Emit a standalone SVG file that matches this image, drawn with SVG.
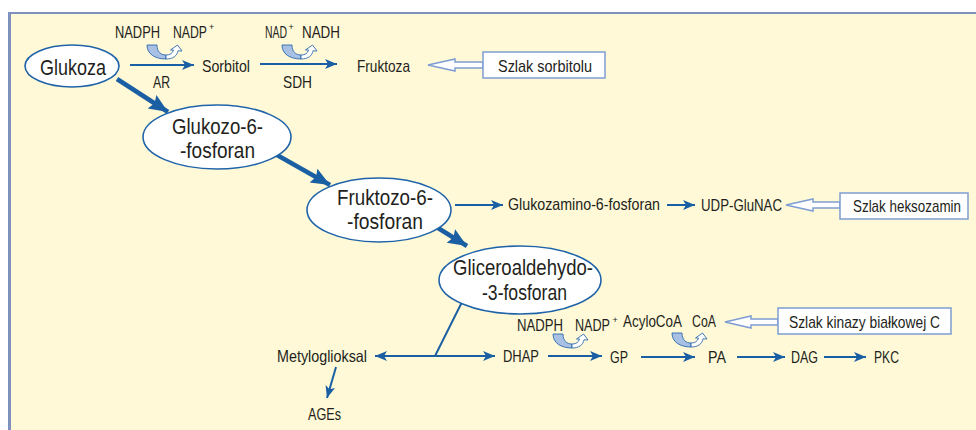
<svg xmlns="http://www.w3.org/2000/svg" width="976" height="430" viewBox="0 0 976 430">
<style>
  text { font-family: "Liberation Sans", Arial, sans-serif; fill: #231f20; }
  .n { font-size: 22px; }
  .s { font-size: 16.5px; }
  .b { font-size: 17px; }
  .sup { font-size: 9px; }
  .node { fill: #ffffff; stroke: #1f64a8; stroke-width: 1.6; }
  .thin { stroke: #1a5fa3; stroke-width: 2; fill: none; }
  .thick { stroke: #1a5fa3; stroke-width: 4.5; fill: none; }
  .hollow { fill: #ffffff; stroke: #7e9dd2; stroke-width: 1.5; stroke-linejoin: miter; }
  .box { fill: #ffffff; stroke: #7e9dd2; stroke-width: 1.5; }
</style>
<defs>
  <marker id="ah" markerUnits="userSpaceOnUse" markerWidth="14" markerHeight="12" refX="12" refY="5" orient="auto">
    <path d="M0,0 L12,5 L0,10 L3,5 Z" fill="#1a5fa3"/>
  </marker>
  <marker id="ahs" markerUnits="userSpaceOnUse" markerWidth="14" markerHeight="12" refX="12" refY="5" orient="auto-start-reverse">
    <path d="M0,0 L12,5 L0,10 L3,5 Z" fill="#1a5fa3"/>
  </marker>
  <marker id="ahT" markerUnits="userSpaceOnUse" markerWidth="22" markerHeight="18" refX="19" refY="8" orient="auto">
    <path d="M0,0 L19,8 L0,16 L3,8 Z" fill="#1a5fa3"/>
  </marker>
  <g id="cyc">
    <path d="M0,0 L10,0 C10,7 14,10 19,10 L19,14 C8,14 0,9 0,0 Z" fill="#a8c0e4" stroke="#2e6aae" stroke-width="0.9"/>
    <path d="M19,10 C23,10 25.5,8.5 26.5,5 L23.5,5 L30.5,0 L35,6 L31,5.8 C30,11 26,14 19,14 Z" fill="#ffffff" stroke="#2e6aae" stroke-width="0.9"/>
  </g>
</defs>

<rect x="0" y="0" width="976" height="430" fill="#ffffff"/>
<rect x="8" y="13" width="968" height="417" fill="#fff9d7"/>
<line x1="8" y1="13" x2="976" y2="13" stroke="#7f8fbe" stroke-width="2"/>
<line x1="9.5" y1="13" x2="9.5" y2="430" stroke="#7f8fbe" stroke-width="3"/>

<g id="connectors">
  <line class="thin" x1="130" y1="65" x2="194" y2="65" marker-end="url(#ah)"/>
  <line class="thin" x1="260" y1="64" x2="337" y2="64" marker-end="url(#ah)"/>
  <line class="thick" x1="117" y1="79" x2="168" y2="112" marker-end="url(#ahT)"/>
  <line class="thick" x1="277" y1="155" x2="330" y2="185" marker-end="url(#ahT)"/>
  <line class="thick" x1="438" y1="228" x2="467" y2="246" marker-end="url(#ahT)"/>
  <line class="thin" x1="455" y1="205" x2="503" y2="205" marker-end="url(#ah)"/>
  <line class="thin" x1="667" y1="205" x2="695" y2="205" marker-end="url(#ah)"/>
  <line class="thin" x1="463" y1="300" x2="435" y2="356"/>
  <line class="thin" x1="375" y1="356" x2="495" y2="356" marker-start="url(#ahs)" marker-end="url(#ah)"/>
  <line class="thin" x1="336" y1="367" x2="327" y2="398" marker-end="url(#ah)"/>
  <line class="thin" x1="548" y1="356" x2="602" y2="356" marker-end="url(#ah)"/>
  <line class="thin" x1="641" y1="357" x2="695" y2="357" marker-end="url(#ah)"/>
  <line class="thin" x1="737" y1="357" x2="785" y2="357" marker-end="url(#ah)"/>
  <line class="thin" x1="824" y1="357" x2="866" y2="357" marker-end="url(#ah)"/>
  <use href="#cyc" x="147" y="45"/>
  <use href="#cyc" x="282" y="45"/>
  <use href="#cyc" x="553" y="334"/>
  <use href="#cyc" x="672" y="333"/>
</g>

<g id="glukoza">
  <ellipse class="node" cx="72" cy="66" rx="47" ry="21"/>
  <text class="n" x="40" y="75" textLength="66" lengthAdjust="spacingAndGlyphs">Glukoza</text>
</g>
<g id="g6p">
  <ellipse class="node" cx="217" cy="137" rx="74" ry="32"/>
  <text class="n" x="172" y="134" textLength="91" lengthAdjust="spacingAndGlyphs">Glukozo-6-</text>
  <text class="n" x="180" y="158" textLength="75" lengthAdjust="spacingAndGlyphs">-fosforan</text>
</g>
<g id="f6p">
  <ellipse class="node" cx="379" cy="210" rx="72" ry="32"/>
  <text class="n" x="337" y="205" textLength="96" lengthAdjust="spacingAndGlyphs">Fruktozo-6-</text>
  <text class="n" x="347" y="229" textLength="76" lengthAdjust="spacingAndGlyphs">-fosforan</text>
</g>
<g id="gap">
  <ellipse class="node" cx="520" cy="280" rx="81" ry="34"/>
  <text class="n" x="453" y="275" textLength="140" lengthAdjust="spacingAndGlyphs">Gliceroaldehydo-</text>
  <text class="n" x="482" y="300" textLength="85" lengthAdjust="spacingAndGlyphs">-3-fosforan</text>
</g>

<g id="sorbitol-row">
  <text class="s" x="115" y="38" textLength="45" lengthAdjust="spacingAndGlyphs">NADPH</text>
  <text class="s" x="173" y="38" textLength="34" lengthAdjust="spacingAndGlyphs">NADP</text>
  <text class="sup" x="209" y="30">+</text>
  <text class="s" x="153" y="88" textLength="17" lengthAdjust="spacingAndGlyphs">AR</text>
  <text class="s" x="202" y="72" textLength="48" lengthAdjust="spacingAndGlyphs">Sorbitol</text>
  <text class="s" x="265" y="38" textLength="22" lengthAdjust="spacingAndGlyphs">NAD</text>
  <text class="sup" x="288.5" y="30">+</text>
  <text class="s" x="302" y="38" textLength="38" lengthAdjust="spacingAndGlyphs">NADH</text>
  <text class="s" x="283" y="88" textLength="29" lengthAdjust="spacingAndGlyphs">SDH</text>
  <text class="s" x="357" y="72" textLength="53" lengthAdjust="spacingAndGlyphs">Fruktoza</text>
</g>
<g id="szlak-sorbitolu">
  <path class="hollow" d="M428,65 L455,59 L455,62 L483,62 L483,68 L455,68 L455,71 Z"/>
  <rect class="box" x="483" y="52" width="122" height="26"/>
  <text class="b" x="498" y="72" textLength="94" lengthAdjust="spacingAndGlyphs">Szlak sorbitolu</text>
</g>

<g id="heksozamin-row">
  <text class="s" x="508" y="210" textLength="152" lengthAdjust="spacingAndGlyphs">Glukozamino-6-fosforan</text>
  <text class="s" x="701" y="211" textLength="81" lengthAdjust="spacingAndGlyphs">UDP-GluNAC</text>
</g>
<g id="szlak-heksozamin">
  <path class="hollow" d="M786,205 L813,199 L813,202 L840,202 L840,208 L813,208 L813,211 Z"/>
  <rect class="box" x="840" y="193" width="128" height="26"/>
  <text class="b" x="853" y="212" textLength="108" lengthAdjust="spacingAndGlyphs">Szlak heksozamin</text>
</g>

<g id="bottom-row">
  <text class="s" x="277" y="362" textLength="90" lengthAdjust="spacingAndGlyphs">Metyloglioksal</text>
  <text class="s" x="308" y="420" textLength="33" lengthAdjust="spacingAndGlyphs">AGEs</text>
  <text class="s" x="503" y="362" textLength="36" lengthAdjust="spacingAndGlyphs">DHAP</text>
  <text class="s" x="610" y="363" textLength="18" lengthAdjust="spacingAndGlyphs">GP</text>
  <text class="s" x="708" y="363" textLength="18" lengthAdjust="spacingAndGlyphs">PA</text>
  <text class="s" x="791" y="363" textLength="27" lengthAdjust="spacingAndGlyphs">DAG</text>
  <text class="s" x="874" y="363" textLength="25" lengthAdjust="spacingAndGlyphs">PKC</text>
  <text class="s" x="517" y="331" textLength="46" lengthAdjust="spacingAndGlyphs">NADPH</text>
  <text class="s" x="575" y="331" textLength="35" lengthAdjust="spacingAndGlyphs">NADP</text>
  <text class="sup" x="612.5" y="323">+</text>
  <text class="s" x="623" y="327" textLength="59" lengthAdjust="spacingAndGlyphs">AcyloCoA</text>
  <text class="s" x="692" y="327" textLength="24" lengthAdjust="spacingAndGlyphs">CoA</text>
</g>
<g id="szlak-pkc">
  <path class="hollow" d="M725,322 L751,316 L751,319 L778,319 L778,325 L751,325 L751,328 Z"/>
  <rect class="box" x="778" y="308" width="173" height="26"/>
  <text class="b" x="789" y="328" textLength="151" lengthAdjust="spacingAndGlyphs">Szlak kinazy białkowej C</text>
</g>
</svg>
